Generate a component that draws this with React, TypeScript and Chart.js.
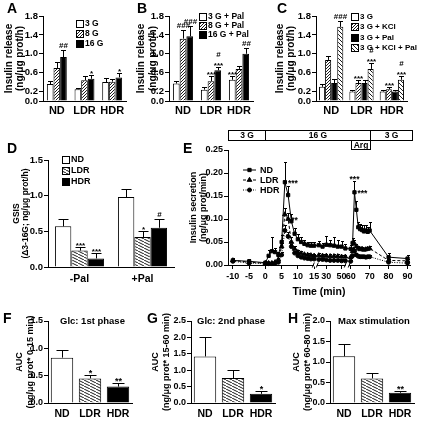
import React, { useEffect, useRef } from 'react';
import { Chart, registerables } from 'chart.js';
import { drawPoint } from 'chart.js/helpers';

Chart.register(...registerables);

const FONT = '"Liberation Sans", Arial, Helvetica, sans-serif';

// ---------------- data ----------------
const groups = ['ND', 'LDR', 'HDR'];
const row1Ticks = [0, 0.2, 0.6, 1.0, 1.4, 1.8];
const row1Title = ['Insulin release', '(ng/μg prot/h)'];

// Panel A
const aNames = ['3 G', '8 G', '16 G'];
const a3G = [0.36, 0.25, 0.4];
const a3GErr = [0.06, 0.03, 0.08];
const a8G = [0.7, 0.44, 0.41];
const a8GErr = [0.12, 0.08, 0.05];
const a16G = [0.93, 0.47, 0.5];
const a16GErr = [0.15, 0.08, 0.1];
const a16GSig = ['##', '*', '*'];

// Panel B
const bNames = ['3 G + Pal', '8 G + Pal', '16 G + Pal'];
const b3G = [0.37, 0.24, 0.45];
const b3GErr = [0.06, 0.06, 0.07];
const b3GSig = ['', '', '***'];
const b8G = [1.32, 0.42, 0.68];
const b8GErr = [0.18, 0.1, 0.07];
const b8GSig = ['###', '***', ''];
const b16G = [1.37, 0.65, 1.0];
const b16GErr = [0.22, 0.08, 0.12];
const b16GSig = ['###', '#\n***', '##'];

// Panel C
const cNames = ['3 G', '3 G + KCl', '3 G + Pal', '3 G + KCl + Pal'];
const c3G = [0.3, 0.2, 0.2];
const c3GErr = [0.05, 0.03, 0.03];
const cKCl = [0.87, 0.38, 0.25];
const cKClErr = [0.08, 0.07, 0.04];
const cKClSig = ['', '***', '***'];
const cPal = [0.38, 0.38, 0.2];
const cPalErr = [0.08, 0.07, 0.03];
const cKClPal = [1.57, 0.68, 0.45];
const cKClPalErr = [0.13, 0.12, 0.07];
const cKClPalSig = ['###', '#\n***', '#\n***'];

// Panel D
const dGroups = ['-Pal', '+Pal'];
const dNames = ['ND', 'LDR', 'HDR'];
const dTicks = [0, 0.5, 1.0, 1.5];
const dND = [0.57, 0.98];
const dNDErr = [0.1, 0.12];
const dLDR = [0.23, 0.42];
const dLDRErr = [0.05, 0.08];
const dLDRSig = ['***', '*'];
const dHDR = [0.12, 0.55];
const dHDRErr = [0.07, 0.12];
const dHDRSig = ['***', '#'];

// Panel E (perifusion time course)
const eNames = ['ND', 'LDR', 'HDR'];
const eTimes = [-10, -5, 0, 1, 2, 3, 4, 5, 6, 7, 8, 9, 10, 11, 12, 13, 14, 15,
  20, 25, 30, 35, 40, 45, 50, 55, 60,
  61, 62, 63, 64, 65, 66, 67, 68, 69, 70, 80, 90];
const eND = [0.010, 0.008, 0.005, 0.020, 0.030, 0.028, 0.022, 0.050, 0.180, 0.152, 0.095, 0.068, 0.056, 0.050, 0.046, 0.043, 0.042, 0.042,
  0.043, 0.040, 0.044, 0.043, 0.042, 0.040, 0.040, 0.036, 0.035,
  0.048, 0.158, 0.120, 0.082, 0.078, 0.076, 0.073, 0.075, 0.072, 0.075, 0.017, 0.014];
const eNDErr = [0.006, 0.004, 0.003, 0.012, 0.03, 0.008, 0.006, 0.015, 0.045, 0.02, 0.015, 0.012, 0.012, 0.01, 0.008, 0.008, 0.007, 0.007,
  0.01, 0.008, 0.02, 0.012, 0.018, 0.015, 0.012, 0.01, 0.008,
  0.01, 0.025, 0.02, 0.012, 0.012, 0.012, 0.015, 0.012, 0.01, 0.018, 0.01, 0.008];
const eLDR = [0.010, 0.006, 0.004, 0.004, 0.004, 0.006, 0.012, 0.040, 0.110, 0.100, 0.050, 0.035, 0.028, 0.025, 0.023, 0.022, 0.021, 0.020,
  0.021, 0.020, 0.020, 0.019, 0.019, 0.019, 0.018, 0.018, 0.017,
  0.030, 0.046, 0.040, 0.036, 0.034, 0.035, 0.033, 0.034, 0.035, 0.036, 0.010, 0.009];
const eLDRErr = [0.004, 0.003, 0.002, 0.002, 0.002, 0.003, 0.004, 0.008, 0.015, 0.012, 0.01, 0.006, 0.005, 0.005, 0.004, 0.004, 0.004, 0.004,
  0.005, 0.004, 0.005, 0.005, 0.004, 0.005, 0.004, 0.004, 0.004,
  0.006, 0.008, 0.006, 0.005, 0.005, 0.005, 0.005, 0.005, 0.005, 0.006, 0.004, 0.004];
const eHDR = [0.008, 0.004, 0.003, 0.003, 0.003, 0.004, 0.006, 0.022, 0.075, 0.062, 0.040, 0.026, 0.020, 0.017, 0.015, 0.014, 0.013, 0.013,
  0.012, 0.012, 0.011, 0.010, 0.010, 0.010, 0.009, 0.009, 0.008,
  0.020, 0.030, 0.022, 0.019, 0.018, 0.018, 0.018, 0.017, 0.018, 0.018, 0.006, 0.004];
const eHDRErr = [0.003, 0.002, 0.002, 0.002, 0.002, 0.002, 0.003, 0.006, 0.012, 0.01, 0.006, 0.004, 0.003, 0.003, 0.003, 0.003, 0.003, 0.003,
  0.003, 0.003, 0.003, 0.003, 0.003, 0.003, 0.003, 0.003, 0.003,
  0.004, 0.005, 0.004, 0.003, 0.003, 0.003, 0.003, 0.003, 0.003, 0.003, 0.003, 0.003];
const eTickTimes = [-10, -5, 0, 5, 10, 15, 30, 50, 60, 70, 80, 90];
const eTickLabels = ['-10', '-5', '0', '5', '10', '15', '30', '50', '60', '70', '80', '90'];
const eYTicks = [0, 0.05, 0.1, 0.15, 0.2, 0.25];
const eStageLabels = ['3 G', '16 G', '3 G'];
const eStageStart = [null, 0, 70];
const eStageEnd = [0, 70, null];
const eArgLabel = 'Arg';
const eArgStart = 60;
const eArgEnd = 70;
const eSigSeries = [0, 1, 0, 0];
const eSigTimes = [6, 7, 62, 62];
const eSigText = ['***', '**', '***', '***'];
const eSigPlace = ['right', 'right', 'above', 'right'];
const eBreakTimes = [15.5, 57.5];

// Panels F, G, H (AUC)
const fValues = [0.83, 0.45, 0.3];
const fErr = [0.14, 0.07, 0.07];
const fSig = ['', '*', '**'];
const fTicks = [0, 0.5, 1.0, 1.5];
const gValues = [1.42, 0.76, 0.28];
const gErr = [0.58, 0.25, 0.1];
const gSig = ['', '', '*'];
const gTicks = [0, 0.5, 1.0, 1.5, 2.0, 2.5];
const hValues = [1.14, 0.6, 0.25];
const hErr = [0.31, 0.13, 0.04];
const hSig = ['', '', '**'];
const hTicks = [0, 0.5, 1.0, 1.5, 2.0];

// ---------------- layout ----------------
type Rect = [number, number, number, number];
const BOX: Record<string, Rect> = {
  A: [0, 0, 134, 122], B: [134, 0, 136, 122], C: [272, 0, 149, 122],
  D: [0, 128, 180, 172], E: [180, 120, 241, 180],
  F: [0, 308, 142, 115], G: [142, 308, 140, 115], H: [282, 308, 139, 115],
};
const PLOT: Record<string, Rect> = {
  A: [43, 16, 126, 101], B: [169, 16, 253, 101], C: [316, 16, 407, 101],
  D: [48, 160, 174, 267], E: [228, 150, 410, 265],
  F: [48, 321, 132, 403], G: [191, 321, 275, 403], H: [330, 321, 414, 403],
};
const LETTERS: [string, number, number][] = [
  ['A', 7, 1], ['B', 137, 1], ['C', 277, 1], ['D', 7, 141], ['E', 183, 141],
  ['F', 3, 311], ['G', 147, 311], ['H', 288, 311],
];

// broken time axis: 15-60 min compressed, 60-90 min partly compressed
function timeToAxis(t: number) {
  if (t <= 15) return t;
  if (t < 60) return 15.25 + 0.234 * (t - 15);
  return 26.25 + 0.583 * (t - 60);
}

function hatch(w: number, h: number, dir: number) {
  const c = document.createElement('canvas');
  c.width = w; c.height = h;
  const g = c.getContext('2d')!;
  g.fillStyle = '#fff'; g.fillRect(0, 0, w, h);
  g.strokeStyle = '#000'; g.lineWidth = 0.9;
  g.beginPath();
  for (let k = -1; k <= 1; k++) {
    if (dir > 0) { g.moveTo(k * w, h); g.lineTo(k * w + w, 0); }
    else { g.moveTo(k * w, 0); g.lineTo(k * w + w, h); }
  }
  g.stroke();
  return g.createPattern(c, 'repeat')!;
}

function drawSigText(ctx: any, text: string, x: number, y: number, size: number, align: string) {
  ctx.fillStyle = '#000';
  ctx.font = `bold ${size}px ${FONT}`;
  ctx.textAlign = align;
  ctx.textBaseline = 'alphabetic';
  const lines = text.split('\n');
  lines.forEach((ln, j) => {
    const shift = /^\*+$/.test(ln) ? size * 0.32 : -1;
    const yy = y - (lines.length - 1 - j) * size * 0.95 + shift;
    ctx.fillText(ln, x, yy);
  });
}

function makeDecor(d: any) {
  const [ox, oy] = d.origin;
  return {
    id: 'decor',
    afterDatasetsDraw(chart: any) {
      const ctx = chart.ctx;
      const ys = chart.scales.y;
      ctx.save();
      chart.data.datasets.forEach((ds: any, di: number) => {
        if (!ds.err) return;
        const meta = chart.getDatasetMeta(di);
        meta.data.forEach((el: any, i: number) => {
          const raw = ds.data[i];
          const v = typeof raw === 'number' ? raw : raw.y;
          const e = ds.err[i];
          const x = Math.round(el.x) + 0.5;
          const y0 = ys.getPixelForValue(v);
          const y1 = Math.round(ys.getPixelForValue(v + e)) + 0.5;
          ctx.strokeStyle = '#000'; ctx.lineWidth = 1; ctx.setLineDash([]);
          ctx.beginPath();
          ctx.moveTo(x, y0); ctx.lineTo(x, y1);
          ctx.moveTo(x - d.cap, y1); ctx.lineTo(x + d.cap, y1);
          ctx.stroke();
          const s = ds.sig ? ds.sig[i] : '';
          if (s) drawSigText(ctx, s, x, y1 - 2, d.sigFont, 'center');
        });
      });
      ctx.restore();
    },
    afterDraw(chart: any) {
      const ctx = chart.ctx;
      const ca = chart.chartArea;
      ctx.save();
      if (d.legend) {
        const L = d.legend;
        chart.data.datasets.forEach((ds: any, i: number) => {
          const yy = L.rows[i] - oy;
          if (L.kind === 'box') {
            const x = L.x - ox + 0.5;
            const top = Math.round(yy - L.size / 2) + 0.5;
            ctx.fillStyle = ds.backgroundColor;
            ctx.fillRect(x, top, L.size, L.size);
            ctx.strokeStyle = '#000'; ctx.lineWidth = 1;
            ctx.strokeRect(x, top, L.size, L.size);
          } else {
            const x1 = L.x - ox, x2 = L.lineEnd - ox;
            ctx.strokeStyle = '#000'; ctx.lineWidth = 1;
            ctx.setLineDash(ds.borderDash || []);
            ctx.beginPath(); ctx.moveTo(x1, yy); ctx.lineTo(x2, yy); ctx.stroke();
            ctx.setLineDash([]);
            ctx.fillStyle = '#000';
            drawPoint(ctx, { pointStyle: ds.pointStyle, rotation: 0, radius: ds.pointRadius, borderWidth: 1 }, (x1 + x2) / 2, yy);
          }
          ctx.fillStyle = '#000';
          ctx.font = `bold ${L.font}px ${FONT}`;
          ctx.textAlign = 'left'; ctx.textBaseline = 'middle';
          ctx.fillText(ds.label, L.textX - ox, yy + 0.5);
        });
      }
      if (d.title) {
        ctx.fillStyle = '#000';
        ctx.font = `bold ${d.title.font}px ${FONT}`;
        ctx.textAlign = 'left'; ctx.textBaseline = 'middle';
        ctx.fillText(d.title.text, d.title.x - ox, d.title.y - oy);
      }
      if (d.stages) {
        const xs = chart.scales.x;
        const px = (t: number | null, edge: number) => (t === null ? edge : Math.round(xs.getPixelForValue(timeToAxis(t))) + 0.5);
        const top = Math.round(ca.top) - 19.5;
        ctx.lineWidth = 1; ctx.strokeStyle = '#000';
        ctx.font = `bold 8.5px ${FONT}`;
        ctx.textAlign = 'center'; ctx.textBaseline = 'middle';
        eStageLabels.forEach((lab, i) => {
          const x1 = px(eStageStart[i], Math.round(ca.left) + 0.5);
          const x2 = px(eStageEnd[i], Math.round(ca.right) + 2.5);
          ctx.fillStyle = '#fff'; ctx.fillRect(x1, top, x2 - x1, 10);
          ctx.strokeRect(x1, top, x2 - x1, 10);
          ctx.fillStyle = '#000'; ctx.fillText(lab, (x1 + x2) / 2, top + 5.5);
        });
        const a1 = px(eArgStart, 0), a2 = px(eArgEnd, 0);
        ctx.fillStyle = '#fff'; ctx.fillRect(a1, top + 10, a2 - a1, 9);
        ctx.strokeRect(a1, top + 10, a2 - a1, 9);
        ctx.fillStyle = '#000'; ctx.fillText(eArgLabel, (a1 + a2) / 2, top + 15);
        // axis breaks
        eBreakTimes.forEach((t) => {
          const bx = xs.getPixelForValue(timeToAxis(t));
          const by = ca.bottom;
          ctx.fillStyle = '#fff'; ctx.fillRect(bx - 1.5, by - 1.5, 3, 3);
          ctx.strokeStyle = '#000';
          ctx.beginPath();
          ctx.moveTo(bx - 3, by + 2.5); ctx.lineTo(bx - 1, by - 2.5);
          ctx.moveTo(bx + 1, by + 2.5); ctx.lineTo(bx + 3, by - 2.5);
          ctx.stroke();
        });
        // significance marks
        const ys = chart.scales.y;
        eSigText.forEach((txt, k) => {
          const si = eSigSeries[k];
          const idx = eTimes.indexOf(eSigTimes[k]);
          const el = chart.getDatasetMeta(si).data[idx];
          const ds = chart.data.datasets[si];
          if (eSigPlace[k] === 'above') {
            const yTop = ys.getPixelForValue(ds.data[idx].y + ds.err[idx]);
            drawSigText(ctx, txt, el.x, yTop - 2, 8.5, 'center');
          } else {
            drawSigText(ctx, txt, el.x + 3, el.y + 1, 8.5, 'left');
          }
        });
      }
      ctx.restore();
    },
  };
}

function yAxisBase(box: Rect, plot: Rect, p: any) {
  return {
    min: 0,
    max: p.yMax,
    afterBuildTicks: (s: any) => { s.ticks = p.yTicks.map((v: number) => ({ value: v })); },
    ticks: {
      color: '#000', padding: p.yTickPad ?? 1, font: { size: p.yTickFont, weight: 'bold' },
      callback: (v: any) => Number(v).toFixed(p.yDigits),
    },
    grid: { display: true, drawOnChartArea: false, drawTicks: true, tickLength: 4, color: '#000', lineWidth: 1 },
    border: { display: true, color: '#000', width: 1 },
    title: {
      display: true, text: p.yTitle, color: '#000',
      font: { size: p.yTitleFont, weight: 'bold', lineHeight: p.yTitleLH ?? 1.15 },
      padding: { top: p.yTitlePad, bottom: 0 },
    },
    afterFit: (s: any) => { s.width = plot[0] - box[0]; },
  };
}

function barChart(canvas: HTMLCanvasElement, key: string, p: any) {
  const box = BOX[key], plot = PLOT[key];
  const [cx, cy, cw, ch] = box;
  const [, pt, pr, pb] = plot;
  return new Chart(canvas, {
    type: 'bar',
    data: {
      labels: p.cats,
      datasets: p.series.map((s: any) => ({
        label: s.label, data: s.data, err: s.err, sig: s.sig,
        backgroundColor: s.fill, borderColor: '#000', borderWidth: 1,
        categoryPercentage: p.catPct, barPercentage: 1,
      })),
    } as any,
    options: {
      responsive: false, animation: false, maintainAspectRatio: false,
      events: [],
      layout: { padding: { left: 0, top: pt - cy, right: cx + cw - pr, bottom: 0 } },
      plugins: { legend: { display: false }, tooltip: { enabled: false } },
      scales: {
        x: {
          grid: { display: false, drawTicks: false, tickLength: 0 },
          border: { display: true, color: '#000', width: 1 },
          ticks: { color: '#000', font: { size: p.catFont, weight: 'bold' }, padding: p.catPad, maxRotation: 0, autoSkip: false },
          afterFit: (s: any) => { s.height = cy + ch - pb; },
        },
        y: yAxisBase(box, plot, p),
      },
    } as any,
    plugins: [makeDecor({ origin: [cx, cy], cap: p.cap, sigFont: p.sigFont, legend: p.legend, title: p.title })],
  });
}

function lineChartE(canvas: HTMLCanvasElement) {
  const box = BOX.E, plot = PLOT.E;
  const [cx, cy, cw, ch] = box;
  const [, pt, pr, pb] = plot;
  const series = [eND, eLDR, eHDR];
  const errs = [eNDErr, eLDRErr, eHDRErr];
  const dashes = [[], [3, 2], [1, 1.5]];
  const styles = ['rect', 'triangle', 'circle'];
  const radii = [2.3, 2.7, 2.0];
  return new Chart(canvas, {
    type: 'line',
    data: {
      datasets: eNames.map((name, k) => ({
        label: name,
        data: eTimes.map((t, i) => ({ x: timeToAxis(t), y: series[k][i] })),
        err: errs[k],
        borderColor: '#000', backgroundColor: '#000', borderWidth: 1,
        borderDash: dashes[k], pointStyle: styles[k], pointRadius: radii[k],
        pointBorderWidth: 1, pointBackgroundColor: '#000', pointBorderColor: '#000',
        tension: 0, clip: false,
      })),
    } as any,
    options: {
      responsive: false, animation: false, maintainAspectRatio: false,
      events: [],
      layout: { padding: { left: 0, top: pt - cy, right: cx + cw - pr, bottom: 0 } },
      plugins: { legend: { display: false }, tooltip: { enabled: false } },
      scales: {
        x: {
          type: 'linear', min: -11.5, max: 44.5,
          afterBuildTicks: (s: any) => { s.ticks = eTickTimes.map((t) => ({ value: timeToAxis(t) })); },
          ticks: {
            color: '#000', font: { size: 9, weight: 'bold' }, padding: 2, autoSkip: false, maxRotation: 0,
            callback: (_v: any, i: number) => eTickLabels[i],
          },
          grid: { display: true, drawOnChartArea: false, drawTicks: true, tickLength: 4, color: '#000' },
          border: { display: true, color: '#000', width: 1 },
          title: { display: true, text: 'Time (min)', color: '#000', font: { size: 10.5, weight: 'bold' }, padding: { top: 0, bottom: 2 } },
          afterFit: (s: any) => { s.height = cy + ch - pb; },
        },
        y: yAxisBase(box, plot, {
          yMax: 0.25, yTicks: eYTicks, yDigits: 2, yTickFont: 9, yTitle: ['Insulin secretion', '(ng/μg prot/min)'],
          yTitleFont: 9, yTitlePad: 8.3,
        }),
      },
    } as any,
    plugins: [makeDecor({
      origin: [cx, cy], cap: 1.5, sigFont: 8.5, stages: true,
      legend: { kind: 'line', x: 243, lineEnd: 256, textX: 260, rows: [170, 180, 190], font: 9 },
    })],
  });
}

export default function App() {
  const refs = useRef<Record<string, HTMLCanvasElement | null>>({});
  useEffect(() => {
    Chart.defaults.font.family = FONT;
    (Chart.defaults.font as any).weight = 'bold';
    Chart.defaults.color = '#000';
    const dense = hatch(3, 3, 1);
    const shallow = hatch(6, 3, -1);
    const wide = hatch(4, 4, -1);
    const W = '#fff', K = '#000';
    const c = (k: string) => refs.current[k]!;
    const row1 = {
      yMax: 1.8, yTicks: row1Ticks, yDigits: 1, yTickFont: 9.5, yTitle: row1Title, yTitleFont: 10,
      catFont: 11, catPad: 3, cap: 2.5, sigFont: 8,
    };
    const charts: Chart[] = [];
    charts.push(barChart(c('A'), 'A', {
      ...row1, cats: groups, catPct: 0.72, yTitlePad: 3,
      series: [
        { label: aNames[0], data: a3G, err: a3GErr, fill: W },
        { label: aNames[1], data: a8G, err: a8GErr, fill: dense },
        { label: aNames[2], data: a16G, err: a16GErr, sig: a16GSig, fill: K },
      ],
      legend: { kind: 'box', x: 76, textX: 85, rows: [23, 33, 43], size: 7, font: 8.5 },
    }));
    charts.push(barChart(c('B'), 'B', {
      ...row1, cats: groups, catPct: 0.72, yTitlePad: 1.5,
      series: [
        { label: bNames[0], data: b3G, err: b3GErr, sig: b3GSig, fill: W },
        { label: bNames[1], data: b8G, err: b8GErr, sig: b8GSig, fill: dense },
        { label: bNames[2], data: b16G, err: b16GErr, sig: b16GSig, fill: K },
      ],
      legend: { kind: 'box', x: 199, textX: 208, rows: [16, 25, 34], size: 7, font: 8.5 },
    }));
    charts.push(barChart(c('C'), 'C', {
      ...row1, cats: groups, catPct: 0.8, yTitlePad: 2,
      series: [
        { label: cNames[0], data: c3G, err: c3GErr, fill: W },
        { label: cNames[1], data: cKCl, err: cKClErr, sig: cKClSig, fill: dense },
        { label: cNames[2], data: cPal, err: cPalErr, fill: K },
        { label: cNames[3], data: cKClPal, err: cKClPalErr, sig: cKClPalSig, fill: wide },
      ],
      legend: { kind: 'box', x: 351, textX: 360, rows: [16, 26.5, 37, 47.5], size: 7, font: 8 },
    }));
    charts.push(barChart(c('D'), 'D', {
      cats: dGroups, catPct: 0.78, yMax: 1.5, yTicks: dTicks, yDigits: 1, yTickFont: 9.5,
      yTitle: ['GSIS', '(Δ3-16G; ng/μg prot/h)'], yTitleFont: 8.5, yTitlePad: 11.8, yTitleLH: 1.1,
      catFont: 10.5, catPad: 6, cap: 5, sigFont: 8,
      series: [
        { label: dNames[0], data: dND, err: dNDErr, fill: W },
        { label: dNames[1], data: dLDR, err: dLDRErr, sig: dLDRSig, fill: shallow },
        { label: dNames[2], data: dHDR, err: dHDRErr, sig: dHDRSig, fill: K },
      ],
      legend: { kind: 'box', x: 62, textX: 71, rows: [159, 170, 181], size: 7, font: 9 },
    }));
    charts.push(lineChartE(c('E')));
    const auc = {
      cats: groups, catPct: 0.8, yDigits: 1, yTickFont: 9, yTitleFont: 9, yTitleLH: 1.2,
      catFont: 10.5, catPad: 5, cap: 6, sigFont: 9,
    };
    charts.push(barChart(c('F'), 'F', {
      ...auc, yMax: 1.5, yTicks: fTicks, yTitle: ['AUC', '(ng/μg prot* 0-15 min)'], yTitlePad: 14.6,
      series: [{ label: 'AUC', data: fValues, err: fErr, sig: fSig, fill: [W, shallow, K] }],
      title: { text: 'Glc: 1st phase', x: 60, y: 321, font: 9.5 },
    }));
    charts.push(barChart(c('G'), 'G', {
      ...auc, yMax: 2.5, yTicks: gTicks, yTitle: ['AUC', '(ng/μg prot* 15-60 min)'], yTitlePad: 8.6,
      series: [{ label: 'AUC', data: gValues, err: gErr, sig: gSig, fill: [W, shallow, K] }],
      title: { text: 'Glc: 2nd phase', x: 197, y: 321, font: 9.5 },
    }));
    charts.push(barChart(c('H'), 'H', {
      ...auc, yMax: 2.0, yTicks: hTicks, yTitle: ['AUC', '(ng/μg prot* 60-80 min)'], yTitlePad: 9.1,
      series: [{ label: 'AUC', data: hValues, err: hErr, sig: hSig, fill: [W, shallow, K] }],
      title: { text: 'Max stimulation', x: 338, y: 321, font: 9.5 },
    }));
    return () => charts.forEach((ch) => ch.destroy());
  }, []);

  return (
    <div style={{ position: 'absolute', left: 0, top: 0, width: 421, height: 423, background: '#fff', overflow: 'hidden' }}>
      {Object.keys(BOX).map((k) => {
        const [x, y, w, h] = BOX[k];
        return (
          <canvas
            key={k}
            ref={(el) => { refs.current[k] = el; }}
            width={w}
            height={h}
            style={{ position: 'absolute', left: x, top: y, width: w, height: h }}
          />
        );
      })}
      {LETTERS.map(([t, x, y]) => (
        <div key={t} style={{ position: 'absolute', left: x, top: y, font: `bold 14px ${FONT}`, lineHeight: '14px', color: '#000' }}>{t}</div>
      ))}
    </div>
  );
}
